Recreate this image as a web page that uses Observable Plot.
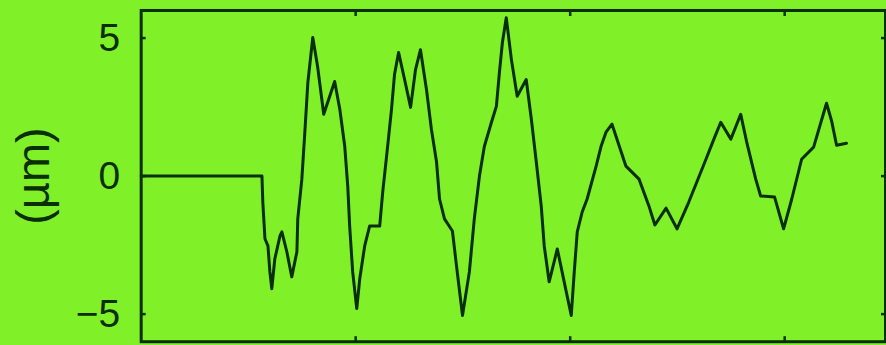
<!DOCTYPE html>
<html>
<head>
<meta charset="utf-8">
<script src="https://cdn.jsdelivr.net/npm/d3@7"></script>
<script src="https://cdn.jsdelivr.net/npm/@observablehq/plot@0.6"></script>
<style>
  html, body { margin: 0; padding: 0; overflow: hidden; background: #80f028; }
  #chart svg { display: block; }
</style>
</head>
<body>
<div id="chart"></div>
<script>
// Surface profile: position along the trace and height in µm
const position = [
  0, 0.563, 0.567, 0.577, 0.591, 0.600, 0.609, 0.623, 0.647, 0.656, 0.679, 0.702,
  0.726, 0.730, 0.749, 0.763, 0.777, 0.800, 0.823, 0.851, 0.902, 0.926, 0.949, 0.963,
  0.972, 0.986, 1.005, 1.019, 1.042, 1.065, 1.112, 1.126, 1.149, 1.167, 1.181, 1.200,
  1.228, 1.256, 1.279, 1.302, 1.330, 1.353, 1.377, 1.391, 1.414, 1.451, 1.470, 1.498,
  1.530, 1.553, 1.577, 1.600, 1.633, 1.656, 1.670, 1.684, 1.702, 1.726, 1.753, 1.795,
  1.819, 1.842, 1.865, 1.879, 1.902, 1.940, 1.972, 2.005, 2.019, 2.033, 2.056, 2.079,
  2.121, 2.144, 2.167, 2.195, 2.260, 2.321, 2.367, 2.395, 2.447, 2.498, 2.553, 2.633,
  2.670, 2.702, 2.749, 2.795, 2.823, 2.865, 2.888, 2.953, 2.995, 3.033, 3.079, 3.135,
  3.195, 3.219, 3.242, 3.288
];
const height = [
  0, 0, -0.94, -2.27, -2.53, -3.47, -4.08, -3.00, -2.17, -2.02, -2.74, -3.65,
  -2.74, -1.55, -0.11, 1.59, 3.39, 5.02, 3.94, 2.24, 3.43, 2.42, 1.08, -0.36,
  -1.81, -3.47, -4.80, -3.72, -2.53, -1.81, -1.81, -0.58, 1.08, 2.42, 3.68, 4.48,
  3.50, 2.49, 3.86, 4.58, 3.14, 1.70, 0.51, -0.83, -1.55, -1.99, -3.25, -5.05,
  -3.47, -1.55, 0, 1.08, 1.95, 2.53, 3.75, 4.84, 5.74, 4.22, 2.89, 3.50,
  2.06, 0.51, -1.08, -2.53, -3.83, -2.64, -3.83, -5.05, -3.47, -2.02, -1.30, -0.83,
  0.36, 1.08, 1.59, 1.88, 0.36, -0.11, -1.08, -1.77, -1.16, -1.91, -0.94, 0.61,
  1.34, 1.95, 1.34, 2.24, 1.23, -0.11, -0.72, -0.76, -1.91, -0.83, 0.61, 1.05,
  2.64, 1.99, 1.12, 1.19
];
const yTicks = [-5, 0, 5];
const xTicks = [1, 2, 3];
const yLabel = "(µm)";

const profile = position.map((x, i) => ({x, y: height[i]}));

const ink = "#0a2e06";
const green = "#80f028";
const blank = () => "";

const chart = Plot.plot({
  width: 888,
  height: 345,
  marginLeft: 141,
  marginRight: 1,
  marginTop: 10,
  marginBottom: 3,
  style: {background: green, fontFamily: "Liberation Sans, Arial, sans-serif", color: ink},
  x: {domain: [0, 3.47]},
  y: {domain: [-6, 6]},
  marks: [
    Plot.frame({stroke: ink, strokeWidth: 3}),
    Plot.axisY({anchor: "left", ticks: yTicks, tickSize: 0, tickPadding: 21, fontSize: 39, label: null, stroke: ink}),
    Plot.axisY({anchor: "left", ticks: yTicks, tickSize: -5, tickFormat: blank, label: null, stroke: ink, strokeWidth: 2.5}),
    Plot.axisY({anchor: "right", ticks: yTicks, tickSize: -5, tickFormat: blank, label: null, stroke: ink, strokeWidth: 2.5}),
    Plot.axisX({anchor: "top", ticks: xTicks, tickSize: -5, tickFormat: blank, label: null, stroke: ink, strokeWidth: 2.5}),
    Plot.axisX({anchor: "bottom", ticks: xTicks, tickSize: -5, tickFormat: blank, label: null, stroke: ink, strokeWidth: 2.5}),
    Plot.text([yLabel], {frameAnchor: "left", textAnchor: "middle", lineAnchor: "middle", dx: -107, rotate: -90, fontSize: 47, fill: ink, text: d => d}),
    Plot.line(profile, {x: "x", y: "y", stroke: ink, strokeWidth: 3})
  ]
});

document.getElementById("chart").append(chart);
</script>
</body>
</html>
